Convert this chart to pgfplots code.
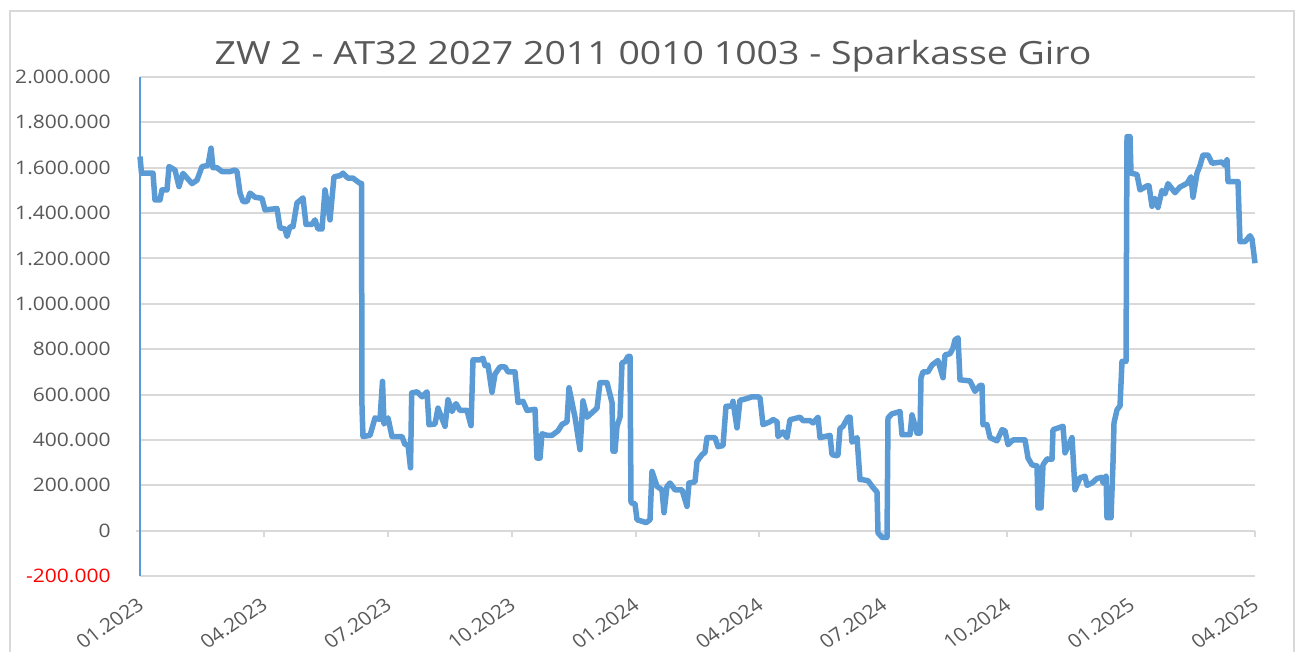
\documentclass[border=0pt]{standalone}
\usepackage{fontspec}
\setmainfont{Open Sans}
\usepackage{pgfplots}
\pgfplotsset{compat=1.18}
\definecolor{lineblue}{HTML}{5B9BD5}
\definecolor{gridgray}{HTML}{D9D9D9}
\definecolor{txtgray}{HTML}{595959}
\begin{document}
\begin{tikzpicture}
\useasboundingbox (0,0) rectangle (650pt,326pt);
\fill[white] (0,0) rectangle (650pt,326pt);
\draw[gridgray, line width=1pt] (5pt,-5pt) rectangle (647pt,320.5pt);
\node[anchor=base, text=txtgray, font=\fontsize{16}{19}\selectfont, inner sep=0pt, xscale=1.17] at (326.5pt,293.5pt) {ZW 2 - AT32 2027 2011 0010 1003 - Sparkasse Giro};
\begin{axis}[
  at={(70pt,38pt)}, anchor=south west,
  scale only axis, width=557.5pt, height=249.5pt,
  xmin=140, xmax=1255, ymin=-200, ymax=2000,
  clip=false,
  axis line style={draw=none},
  major tick length=0pt,
  ymajorgrids, grid style={gridgray, line width=1pt},
  ytick={-200,0,200,400,600,800,1000,1200,1400,1600,1800,2000},
  yticklabels={\textcolor{red}{-200.000},0,200.000,400.000,600.000,800.000,1.000.000,1.200.000,1.400.000,1.600.000,1.800.000,2.000.000},
  yticklabel style={xshift=-14.5pt, xscale=1.13, anchor=east, inner sep=0pt, text=txtgray, font=\fontsize{9.3}{11}\selectfont},
  xtick={140,263.9,387.8,511.7,635.6,759.4,883.3,1007.2,1131.1,1255},
  xticklabels={01.2023,04.2023,07.2023,10.2023,01.2024,04.2024,07.2024,10.2024,01.2025,04.2025},
  xticklabel style={xshift=0.5pt, yshift=-13pt, xscale=1.1, rotate=37, anchor=east, inner sep=0pt, text=txtgray, font=\fontsize{9.5}{11}\selectfont},
]
\pgfplotsinvokeforeach{263.9,387.8,511.7,635.6,759.4,883.3,1007.2,1131.1,1255}{
  \draw[gridgray, line width=1pt] (axis cs:#1,0) -- ([yshift=-3pt]axis cs:#1,0);
}
\draw[gridgray, line width=1pt] (axis cs:140,0) -- ([xshift=-2pt]axis cs:140,0);
\draw[lineblue, line width=1pt] (axis cs:140,-200) -- (axis cs:140,2000);
\addplot[lineblue, line width=2.75pt, line join=round, mark=none] table[x=x,y=y] {
x y
140 1649
141.5 1576
153 1576
155 1458
160 1458
162 1502
167 1502
169 1605
175 1590
179 1517
183 1575
192 1530
197 1545
202 1605
208 1610
211 1686
213 1600
217 1600
222 1583
230 1583
235 1590
237 1583
240 1488
243 1451
247 1451
250 1488
255 1470
262 1465
265 1414
277 1420
280 1335
285 1330
287 1297
290 1340
293 1340
297 1445
303 1467
306 1350
312 1350
315 1370
318 1330
322 1330
325 1502
330 1370
334 1560
340 1565
343 1576
348 1554
353 1554
360 1531
361.5 1531
362 542
363 415
370 420
375 497
380 490
382.5 658
384 470
388 497
392 415
402 415
405 379
408 379
410.5 277
411.7 607
417 612
422 590
427 612
429 467
435 470
438 540
445 460
448 577
452 525
456 560
460 530
467 530
471 463
473 753
480 753
483 760
485 727
488 730
492 610
495 690
500 722
505 722
508 700
515 700
518 565
523 570
527 530
535 535
537 320
540 320
542 427
547 420
552 420
558 440
562 468
567 480
569 630
575 500
580 357
583 572
587 500
597 540
600 652
607 652
612 565
613 350
615 350
617 460
620 500
622 740
625 745
628 768
630 768
631 123
635 118
637 48
643 40
646 35
650 48
652 261
657 195
662 180
664 79
667 195
670 210
675 180
682 180
687 107
689 210
695 215
697 305
702 335
705 345
707 410
715 410
718 370
723 375
726 548
732 550
733 570
737 453
740 575
745 580
752 590
758 590
760 585
763 467
770 480
773 490
777 480
778 415
783 435
787 410
790 489
800 500
803 485
810 485
813 475
818 500
820 410
825 415
830 420
832 335
837 330
838 335
840 450
843 460
848 500
850 500
852 390
857 410
860 225
862 225
868 220
873 190
877 170
878 -10
882 -30
887 -30
888 497
892 515
900 525
902 423
910 423
912 510
917 430
920 430
921 674
923 700
928 700
932 730
938 750
943 674
945 775
950 780
953 805
955 841
958 850
960 665
970 660
975 614
980 640
982 640
983 467
987 467
990 410
997 396
1002 445
1005 440
1008 379
1013 400
1025 400
1028 320
1032 290
1037 285
1038 100
1041 100
1043 290
1047 316
1052 315
1053 445
1063 460
1065 343
1072 410
1075 180
1080 233
1085 240
1087 200
1092 210
1097 230
1102 235
1103 210
1106 240
1107 57
1111 57
1113 300
1114 475
1117 533
1120 550
1122 746
1126 746
1127 1737
1130 1737
1131 1576
1137 1570
1140 1502
1147 1520
1149 1520
1152 1430
1155 1465
1158 1425
1162 1500
1165 1485
1168 1530
1175 1490
1180 1515
1187 1531
1191 1560
1193 1470
1197 1576
1200 1610
1203 1656
1208 1656
1212 1620
1222 1625
1225 1610
1227 1635
1228 1539
1238 1539
1240 1274
1245 1274
1250 1300
1252 1285
1255 1179
};
\end{axis}
\end{tikzpicture}
\end{document}
